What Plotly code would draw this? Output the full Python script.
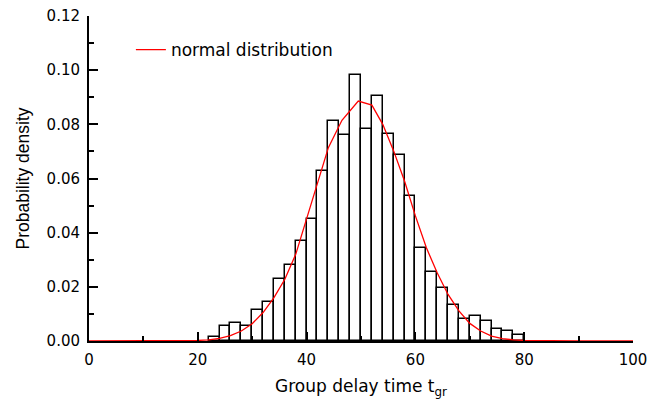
import plotly.graph_objects as go

# Histogram bins (width 2) : centers and heights
bin_centers = [23, 25, 27, 29, 31, 33, 35, 37, 39, 41, 43, 45, 47, 49, 51, 53,
               55, 57, 59, 61, 63, 65, 67, 69, 71, 73, 75, 77, 79]
bin_heights = [0.0016, 0.0054, 0.0065, 0.0055, 0.0113, 0.0143, 0.0228, 0.0282,
               0.0370, 0.0449, 0.0628, 0.0813, 0.0759, 0.0982, 0.0783, 0.0904,
               0.0765, 0.0688, 0.0534, 0.0343, 0.0254, 0.0195, 0.0132, 0.0082,
               0.0091, 0.0073, 0.0045, 0.0036, 0.0021]

# Fitted normal distribution curve
curve_x = [0, 10, 16, 20, 22, 24, 26, 28, 30, 32, 34, 36, 38, 40, 42, 44, 46.5,
           49.5, 52, 54, 56, 58, 60, 62, 64, 66, 68, 70, 72, 74, 76, 78, 80, 84,
           90, 100]
curve_y = [0, 0, 0.0001, 0.0002, 0.0004, 0.0010, 0.0020, 0.0037, 0.0064, 0.0105,
           0.0160, 0.0228, 0.0320, 0.0449, 0.0580, 0.0714, 0.0815, 0.0886, 0.0871,
           0.0800, 0.0702, 0.0591, 0.0462, 0.0345, 0.0252, 0.0172, 0.0111, 0.0065,
           0.0037, 0.0018, 0.0009, 0.0004, 0.0002, 0.0001, 0, 0]

x_ticks = [0, 20, 40, 60, 80, 100]
y_ticks = [0.00, 0.02, 0.04, 0.06, 0.08, 0.10, 0.12]
y_tick_labels = ["0.00", "0.02", "0.04", "0.06", "0.08", "0.10", "0.12"]

fig = go.Figure()
fig.add_trace(go.Bar(
    x=bin_centers, y=bin_heights, width=2,
    marker=dict(color="white", line=dict(color="black", width=1.5)),
    showlegend=False,
))
fig.add_trace(go.Scatter(
    x=curve_x, y=curve_y, mode="lines", name="normal distribution",
    line=dict(color="red", width=1.3),
))

font_h = "DejaVu Sans"
fig.update_layout(
    width=648, height=399,
    margin=dict(l=89, r=15, t=16, b=58, autoexpand=False),
    plot_bgcolor="white", paper_bgcolor="white",
    font=dict(family=font_h, size=15, color="black"),
    bargap=0,
    legend=dict(x=0.077, y=0.895, xanchor="left", yanchor="middle",
                bgcolor="rgba(0,0,0,0)", font=dict(size=17, family=font_h)),
    xaxis=dict(
        range=[0, 100], tickvals=x_ticks, ticks="inside", ticklen=9, tickwidth=2,
        tickcolor="black", showline=True, linecolor="black", linewidth=2,
        showgrid=False, zeroline=False, ticklabelstandoff=4, automargin=False,
        ticklabeloverflow="allow",
        minor=dict(dtick=10, ticks="inside", ticklen=5, tickwidth=1.5, tickcolor="black"),
        title=dict(text="Group delay time t<sub>gr</sub>",
                   font=dict(size=17, family=font_h), standoff=17),
        tickfont=dict(size=15, family=font_h),
    ),
    yaxis=dict(
        range=[0, 0.12], tickvals=y_ticks, ticktext=y_tick_labels, ticks="inside",
        ticklen=9, tickwidth=2, tickcolor="black", showline=True, linecolor="black",
        linewidth=2, showgrid=False, zeroline=False, ticklabelstandoff=4,
        automargin=False, ticklabeloverflow="allow",
        minor=dict(dtick=0.01, ticks="inside", ticklen=5, tickwidth=1.5, tickcolor="black"),
        title=dict(text="Probability density",
                   font=dict(size=17.5, family="Liberation Sans"), standoff=12),
        tickfont=dict(size=15, family=font_h),
    ),
)

fig.write_html(
    "out.html",
    config={"displayModeBar": False},
    post_script="document.body.style.margin='0';document.body.style.overflow='hidden';",
)
